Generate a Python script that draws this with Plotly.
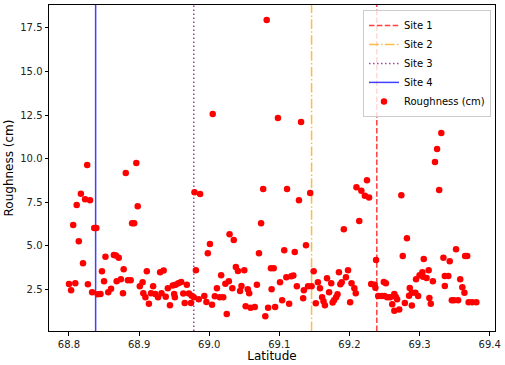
import plotly.graph_objects as go

# site positions (latitude)
site_names = ['Site 1', 'Site 2', 'Site 3', 'Site 4']
site_lats = [69.239, 69.146, 68.978, 68.838]
site_colors = ['rgba(255,0,0,0.75)', 'rgba(255,165,0,0.75)',
               'rgba(128,0,128,0.75)', 'rgba(0,0,255,0.75)']
site_dash = ['5.5px,2.4px', '9.6px,2.4px,1.5px,2.4px', '1.5px,2.5px', 'solid']

latitude = [
    68.800, 68.803, 68.806, 68.809, 68.811, 68.814, 68.817, 68.820, 68.823, 68.826,
    68.827, 68.830, 68.833, 68.836, 68.839, 68.841, 68.845, 68.847, 68.850, 68.852,
    68.856, 68.860, 68.864, 68.867, 68.868, 68.871, 68.874, 68.877, 68.878, 68.881,
    68.884, 68.888, 68.890, 68.893, 68.896, 68.898, 68.901, 68.905, 68.906, 68.909,
    68.911, 68.914, 68.917, 68.920, 68.923, 68.927, 68.930, 68.932, 68.935, 68.938,
    68.941, 68.944, 68.948, 68.950, 68.951, 68.952, 68.956, 68.960, 68.963, 68.965,
    68.968, 68.971, 68.974, 68.975, 68.978, 68.979, 68.981, 68.985, 68.987, 68.993,
    68.996, 68.998, 69.001, 69.004, 69.005, 69.008, 69.011, 69.015, 69.017, 69.020,
    69.023, 69.025, 69.028, 69.029, 69.033, 69.035, 69.038, 69.041, 69.044, 69.046,
    69.050, 69.052, 69.055, 69.057, 69.059, 69.065, 69.068, 69.071, 69.074, 69.077,
    69.080, 69.082, 69.084, 69.088, 69.089, 69.092, 69.094, 69.098, 69.101, 69.104,
    69.107, 69.110, 69.111, 69.114, 69.117, 69.120, 69.122, 69.125, 69.128, 69.131,
    69.134, 69.135, 69.138, 69.141, 69.144, 69.146, 69.149, 69.152, 69.155, 69.158,
    69.161, 69.163, 69.165, 69.168, 69.171, 69.174, 69.176, 69.178, 69.181, 69.183,
    69.185, 69.187, 69.189, 69.192, 69.195, 69.198, 69.201, 69.203, 69.207, 69.209,
    69.210, 69.214, 69.217, 69.222, 69.225, 69.228, 69.231, 69.236, 69.237, 69.238,
    69.241, 69.246, 69.249, 69.250, 69.252, 69.254, 69.258, 69.261, 69.264, 69.264,
    69.266, 69.268, 69.271, 69.274, 69.276, 69.279, 69.282, 69.285, 69.286, 69.289,
    69.289, 69.294, 69.295, 69.298, 69.300, 69.304, 69.305, 69.306, 69.310, 69.313,
    69.314, 69.316, 69.319, 69.322, 69.325, 69.328, 69.331, 69.334, 69.336, 69.336,
    69.341, 69.343, 69.346, 69.349, 69.352, 69.355, 69.358, 69.361, 69.364, 69.365,
    69.368, 69.370, 69.375, 69.381,
]

roughness = [
    2.80, 2.44, 6.18, 2.84, 7.33, 5.26, 7.98, 3.99, 7.67, 9.63,
    2.79, 7.61, 2.33, 6.01, 6.01, 2.21, 2.23, 3.53, 2.96, 4.36,
    2.33, 2.53, 4.47, 4.43, 2.96, 4.30, 3.07, 2.27, 3.65, 9.17,
    3.02, 3.02, 6.29, 6.29, 9.74, 7.27, 2.67, 2.90, 2.27, 2.04,
    3.53, 1.66, 2.27, 2.67, 2.23, 2.04, 3.48, 2.27, 3.57, 2.07,
    2.56, 1.58, 2.71, 2.23, 2.04, 2.76, 2.84, 2.92, 2.25, 1.71,
    2.76, 2.25, 1.71, 2.13, 2.04, 8.07, 3.59, 1.93, 7.96, 2.11,
    1.77, 4.57, 5.09, 1.61, 12.56, 2.10, 2.56, 2.04, 3.30, 2.04,
    2.82, 1.08, 2.96, 5.66, 2.56, 5.32, 3.78, 3.55, 2.40, 2.69,
    3.59, 1.52, 2.50, 2.27, 1.44, 1.48, 2.75, 4.57, 6.29, 8.25,
    0.95, 17.96, 1.43, 3.71, 2.50, 3.71, 1.48, 12.33, 2.90, 1.87,
    4.74, 3.19, 8.25, 1.67, 3.25, 3.28, 4.63, 2.67, 7.61, 12.10,
    1.98, 2.44, 5.03, 2.67, 8.02, 2.67, 3.53, 1.70, 2.90, 2.56,
    2.04, 1.81, 1.58, 3.13, 2.33, 2.84, 1.73, 1.87, 2.04, 2.21,
    3.48, 2.79, 2.90, 5.95, 3.19, 3.59, 1.75, 2.84, 2.56, 2.27,
    8.36, 6.41, 8.15, 7.86, 8.76, 7.76, 2.80, 2.75, 2.59, 4.17,
    2.11, 2.11, 2.92, 2.11, 2.84, 2.04, 2.04, 1.64, 2.23, 1.27,
    2.07, 1.93, 1.33, 7.90, 4.41, 1.71, 5.43, 2.13, 2.57, 2.29,
    1.56, 2.29, 3.07, 2.11, 3.30, 3.48, 3.22, 4.24, 3.15, 3.59,
    2.00, 1.67, 2.96, 9.80, 10.55, 8.19, 11.47, 4.30, 3.26, 2.69,
    3.26, 4.11, 1.87, 1.87, 4.80, 1.87, 3.07, 2.61, 2.30, 4.41,
    4.41, 1.75, 1.75, 1.75,
]

x_range = [68.7715, 69.4076]
y_range = [0.10, 18.82]

fig = go.Figure()
for name, lat, col, dash in zip(site_names, site_lats, site_colors, site_dash):
    fig.add_trace(go.Scatter(x=[lat, lat], y=y_range, mode='lines', name=name,
                             line=dict(color=col, width=1.5, dash=dash)))

fig.add_trace(go.Scatter(x=latitude, y=roughness, mode='markers',
                         name='Roughness (cm)',
                         marker=dict(color='#ff0000', size=6.5)))

axis_style = dict(showline=True, mirror=True, linecolor='black', linewidth=1,
                  ticks='outside', ticklen=3.5, tickwidth=1, tickcolor='black',
                  showgrid=False, zeroline=False, automargin=False,
                  tickfont=dict(size=10, color='#222222'))

fig.update_layout(width=505, height=365,
                  margin=dict(l=49, r=10, t=5, b=34),
                  paper_bgcolor='white', plot_bgcolor='white',
                  font=dict(family='DejaVu Sans', size=10, color='black'),
                  legend=dict(x=0.991, y=0.985, xanchor='right', yanchor='top',
                              bgcolor='rgba(255,255,255,0.8)',
                              bordercolor='#cccccc', borderwidth=1,
                              font=dict(size=10), tracegroupgap=0,
                              itemwidth=30),
                  showlegend=True)
fig.update_xaxes(range=x_range, tickvals=[68.8, 68.9, 69.0, 69.1, 69.2, 69.3, 69.4],
                 tickformat='.1f', title=dict(text='Latitude', standoff=2),
                 **axis_style)
fig.update_yaxes(range=y_range, dtick=2.5, tick0=2.5, tickformat='.1f',
                 title=dict(text='Roughness (cm)', standoff=4), **axis_style)

# the page's default body margin would shift the figure by 8px
fig.write_html("out.html", config={'displayModeBar': False},
               post_script="document.body.style.margin='0px';")
